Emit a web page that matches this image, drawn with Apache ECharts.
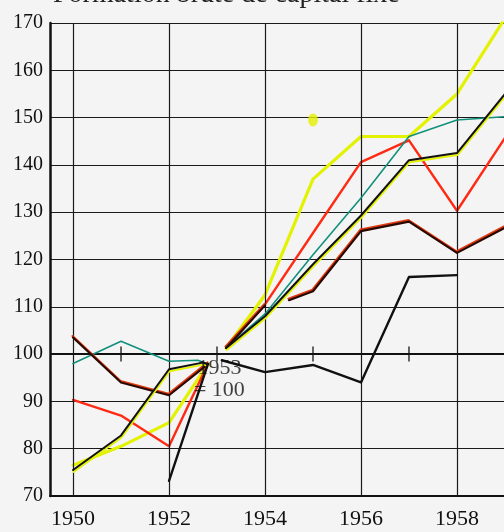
<!DOCTYPE html>
<html>
<head>
<meta charset="utf-8">
<script src="https://cdn.jsdelivr.net/npm/echarts@6/dist/echarts.min.js"></script>
<style>html,body{margin:0;padding:0;background:#f4f4f4;}#c{width:504px;height:532px;}</style>
</head>
<body>
<div id="c"></div>
<script>
// ---- data (null = break in the drawn line) ----
const yellowYears = [1950, 1951, 1952, 1952.81, null, 1953.19, 1954, 1955, 1956, 1957, 1958, 1959];
const yellowVals  = [76.5, 80.5, 85.5, 97.9, null, 101.3, 112.5, 137, 146, 146, 155, 171];

const redYears = [1950, 1951, 1952, 1952.81, null, 1953.19, 1954, 1955, 1956, 1957, 1958, 1959];
const redVals  = [90.3, 87, 80.5, 97.9, null, 101.3, 110.5, 125.6, 140.6, 145.2, 130.3, 145.7];

const tealYears = [1950, 1951, 1952, 1952.6, 1952.81, null, 1953.19, 1954, 1955, 1956, 1957, 1958, 1959];
const tealVals  = [98, 102.7, 98.5, 98.7, 97.9, null, 101.3, 108.5, 121, 133, 146, 149.5, 150.2];

const brownYears = [1950, 1951, 1952, 1952.81, null, 1953.19, 1954, null, 1954.5, 1955, 1956, 1957, 1958, 1959];
const brownVals  = [103.5, 94, 91.3, 97.9, null, 101.3, 110.3, null, 111.4, 113.3, 126, 128, 121.4, 126.7];

const blackYellowYears = [1950, 1951, 1952, 1952.7, 1952.81, null, 1953.19, 1954, 1955, 1956, 1957, 1958, 1959];
const blackYellowVals  = [75.5, 82.8, 96.8, 98.2, 97.9, null, 101.3, 108, 119, 129.3, 141, 142.5, 155];

const blackYears = [1952, 1952.81, null, 1953.1, 1954, 1955, 1956, 1957, 1958];
const blackVals  = [73.2, 97.9, null, 98.7, 96.2, 97.7, 94, 116.3, 116.7];

const spotYears = [1955];
const spotVals = [149.5];

const xLabelYears = [1950, 1952, 1954, 1956, 1958];
const minorTickYears = [1951, 1953, 1955, 1957];
const baseValue = 100;
const titleText = 'Formation brute de capital fixe';
const noteText = '1953\n= 100';
const notePos = [1953.05, 94.7];

function pts(xs, ys) {
  return xs.map((x, i) => (x === null ? ['-', '-'] : [x, ys[i]]));
}

const serif = 'Liberation Serif';
const chart = echarts.init(document.getElementById('c'), null, { renderer: 'canvas' });

function lineSeries(name, xs, ys, color, width, shadow, z) {
  const ls = { color: color, width: width, cap: 'round', join: 'round' };
  if (shadow) {
    ls.shadowColor = shadow.color;
    ls.shadowBlur = 0;
    ls.shadowOffsetX = shadow.dx;
    ls.shadowOffsetY = shadow.dy;
  }
  return {
    name: name, type: 'line', data: pts(xs, ys), showSymbol: false, symbol: 'none',
    connectNulls: false, lineStyle: ls, z: z, silent: true, animation: false, clip: true
  };
}

chart.setOption({
  backgroundColor: '#f4f4f4',
  animation: false,
  title: {
    text: titleText, left: 48, top: -24,
    textStyle: { fontFamily: serif, fontSize: 28, fontWeight: 'normal', color: '#222' }
  },
  grid: { left: 50, right: 0, top: 23, bottom: 36, containLabel: false },
  xAxis: {
    type: 'value', min: 1949.52, max: 1958.98,
    axisLine: { show: true, lineStyle: { color: '#111', width: 2 } },
    axisTick: { show: false },
    splitLine: { show: false },
    axisLabel: {
      customValues: xLabelYears, margin: 12,
      fontFamily: serif, fontSize: 22, color: '#111',
      formatter: v => String(v)
    }
  },
  yAxis: {
    type: 'value', min: 70, max: 170, interval: 10,
    axisLine: { show: true, lineStyle: { color: '#111', width: 2.5 } },
    axisTick: { show: false },
    splitLine: { show: true, lineStyle: { color: '#1a1a1a', width: 1.2 } },
    axisLabel: { margin: 7, fontFamily: serif, fontSize: 20, color: '#111' }
  },
  series: [
    {
      type: 'line', data: [], silent: true, z: 1,
      markLine: {
        silent: true, symbol: 'none', animation: false,
        label: { show: false },
        lineStyle: { color: '#1a1a1a', width: 1.2, type: 'solid' },
        data: xLabelYears.map(y => ({ xAxis: y }))
          .concat([{ yAxis: baseValue, lineStyle: { color: '#111', width: 2 } }])
      }
    },
    {
      type: 'scatter', data: minorTickYears.map(y => [y, baseValue]),
      symbol: 'rect', symbolSize: [1.6, 15], itemStyle: { color: '#111' }, z: 2, silent: true
    },
    {
      type: 'scatter', data: pts(spotYears, spotVals),
      symbol: 'circle', symbolSize: [10, 13], itemStyle: { color: '#e4f000' }, z: 2, silent: true
    },
    lineSeries('yellow', yellowYears, yellowVals, '#e2f200', 3.2, null, 3),
    lineSeries('red', redYears, redVals, '#ff2a14', 2.4, null, 4),
    lineSeries('teal', tealYears, tealVals, '#12907c', 1.6, null, 5),
    lineSeries('brown', brownYears, brownVals, '#2a0800', 2.2, { color: '#e23a10', dx: -0.5, dy: -1.5 }, 6),
    lineSeries('blackyellow', blackYellowYears, blackYellowVals, '#111', 2.0, { color: '#e2f200', dx: 0.5, dy: 2 }, 7),
    lineSeries('black', blackYears, blackVals, '#111', 2.4, null, 8),
    {
      type: 'scatter', data: [notePos], symbolSize: 0, z: 10, silent: true,
      label: {
        show: true, position: 'inside', formatter: noteText,
        fontFamily: serif, fontSize: 22, lineHeight: 22, color: '#111', align: 'center'
      }
    }
  ]
});
</script>
</body>
</html>
